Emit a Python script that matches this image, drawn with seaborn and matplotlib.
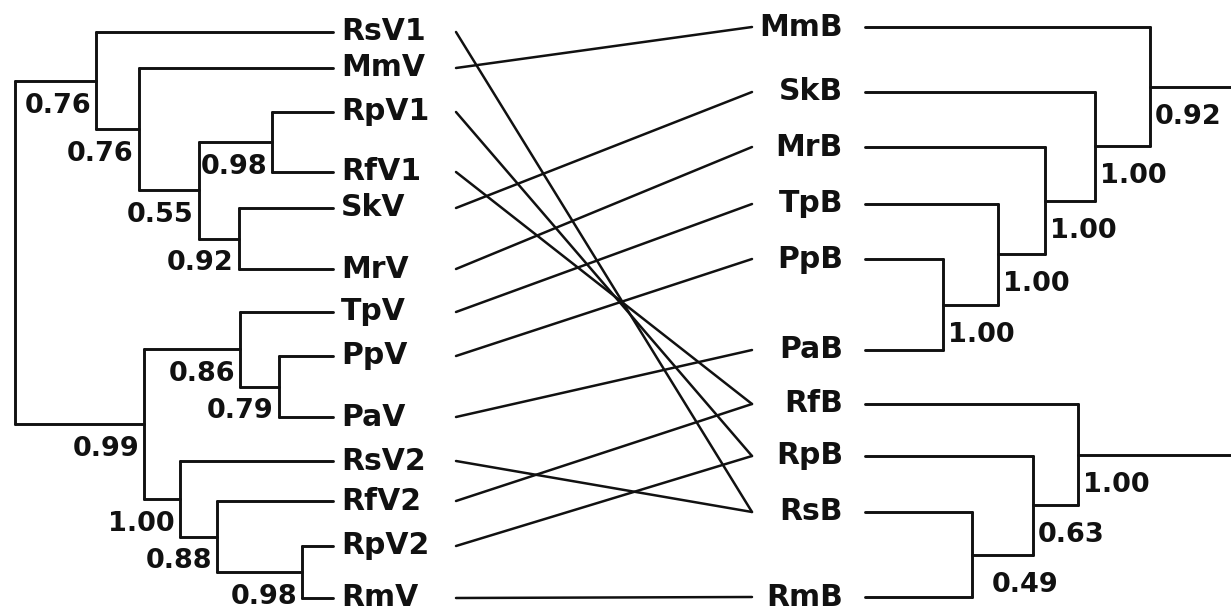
import pandas as pd
import matplotlib.pyplot as plt
import seaborn as sns

sns.set_theme(style="white")
plt.rcParams['font.family'] = ['DejaVu Sans']

# ---- left tree (V) ----
left_leaves = ["RsV1", "MmV", "RpV1", "RfV1", "SkV", "MrV", "TpV",
               "PpV", "PaV", "RsV2", "RfV2", "RpV2", "RmV"]
left_leaf_rows = [32, 68, 112, 172, 208, 269, 312, 356, 417, 461, 501, 546, 598]

left_nodes = ["A", "B", "C", "D", "E", "F", "G", "H", "I", "J", "K", "root"]
left_kids = [("RsV1", "B"), ("MmV", "C"), ("D", "E"), ("RpV1", "RfV1"),
             ("SkV", "MrV"), ("G", "I"), ("TpV", "H"), ("PpV", "PaV"),
             ("RsV2", "J"), ("RfV2", "K"), ("RpV2", "RmV"), ("A", "F")]
left_depth = [237, 194, 134, 61, 94, 189, 93, 54, 153, 116, 31, 318]
left_support = ["0.76", "0.76", "0.55", "0.98", "0.92", "0.99", "0.86",
                "0.79", "1.00", "0.88", "0.98", ""]

# ---- right tree (B) ----
right_leaves = ["MmB", "SkB", "MrB", "TpB", "PpB", "PaB", "RfB", "RpB", "RsB", "RmB"]
right_leaf_rows = [27, 92, 147, 204, 259, 350, 404, 456, 512, 597]

right_nodes = ["N1", "N2", "N3", "N4", "N5", "N6", "N7", "N8"]
right_kids = [("MmB", "N2"), ("SkB", "N3"), ("MrB", "N4"), ("TpB", "N5"),
              ("PpB", "PaB"), ("RfB", "N7"), ("RpB", "N8"), ("RsB", "RmB")]
right_depth = [285, 230, 180, 133, 78, 213, 168, 107]
right_support = ["0.92", "1.00", "1.00", "1.00", "1.00", "1.00", "0.63", "0.49"]
right_roots = ["N1", "N6"]
right_root_depth = 366

# host/virus associations
links = [("RsV1", "RsB"), ("MmV", "MmB"), ("RpV1", "RpB"), ("RfV1", "RfB"),
         ("SkV", "SkB"), ("MrV", "MrB"), ("TpV", "TpB"), ("PpV", "PpB"),
         ("PaV", "PaB"), ("RsV2", "RsB"), ("RfV2", "RfB"), ("RpV2", "RpB"),
         ("RmV", "RmB")]

LEFT_TIP = 333
RIGHT_TIP = 865


def layout(leaves, rows, nodes, kids, depth, tip, sign):
    """Return x/y per node and the list of elbow segments."""
    pos = {name: (tip, y) for name, y in zip(leaves, rows)}
    info = {n: (k, d) for n, k, d in zip(nodes, kids, depth)}
    segs = []

    def place(name):
        if name in pos:
            return pos[name]
        (c1, c2), d = info[name]
        x1, y1 = place(c1)
        x2, y2 = place(c2)
        x = tip + sign * d
        y = (y1 + y2) / 2
        segs.append([(x, y1), (x, y2)])
        segs.append([(x, y1), (x1, y1)])
        segs.append([(x, y2), (x2, y2)])
        pos[name] = (x, y)
        return pos[name]

    for n in nodes:
        place(n)
    return pos, segs


lpos, lsegs = layout(left_leaves, left_leaf_rows, left_nodes, left_kids,
                     left_depth, LEFT_TIP, -1)
rpos, rsegs = layout(right_leaves, right_leaf_rows, right_nodes, right_kids,
                     right_depth, RIGHT_TIP, 1)
for r in right_roots:
    x, y = rpos[r]
    rsegs.append([(x, y), (RIGHT_TIP + right_root_depth, y)])

link_segs = [[(456, lpos[a][1]), (752, rpos[b][1])] for a, b in links]


def to_frame(segs):
    rows = []
    for i, s in enumerate(segs):
        for x, y in s:
            rows.append({"seg": i, "x": x, "y": y})
    return pd.DataFrame(rows)


fig = plt.figure(figsize=(12.31, 6.12), dpi=100)
ax = fig.add_axes([0, 0, 1, 1])

sns.lineplot(data=to_frame(lsegs + rsegs), x="x", y="y", units="seg",
             estimator=None, sort=False, color="#111111", linewidth=2.1,
             ax=ax, legend=False)
sns.lineplot(data=to_frame(link_segs), x="x", y="y", units="seg",
             estimator=None, sort=False, color="#111111", linewidth=1.8,
             ax=ax, legend=False)

# leaf labels
for name in left_leaves:
    ax.text(LEFT_TIP + 8, lpos[name][1], name, ha="left", va="center",
            fontsize=21.5, fontweight="bold", color="#111111")
for name in right_leaves:
    ax.text(RIGHT_TIP - 22, rpos[name][1], name, ha="right", va="center",
            fontsize=21.5, fontweight="bold", color="#111111")

# support values
for n, s in zip(left_nodes, left_support):
    if s:
        x, y = lpos[n]
        ax.text(x - 5, y + 25, s, ha="right", va="center",
                fontsize=19.5, fontweight="bold", color="#111111")
for n, s in zip(right_nodes, right_support):
    x, y = rpos[n]
    dx = 20 if n == "N8" else 5
    ax.text(x + dx, y + 30, s, ha="left", va="center",
            fontsize=19.5, fontweight="bold", color="#111111")

ax.set_xlim(0, 1231)
ax.set_ylim(612, 0)
ax.axis("off")

fig.savefig("out.png", dpi=100)
